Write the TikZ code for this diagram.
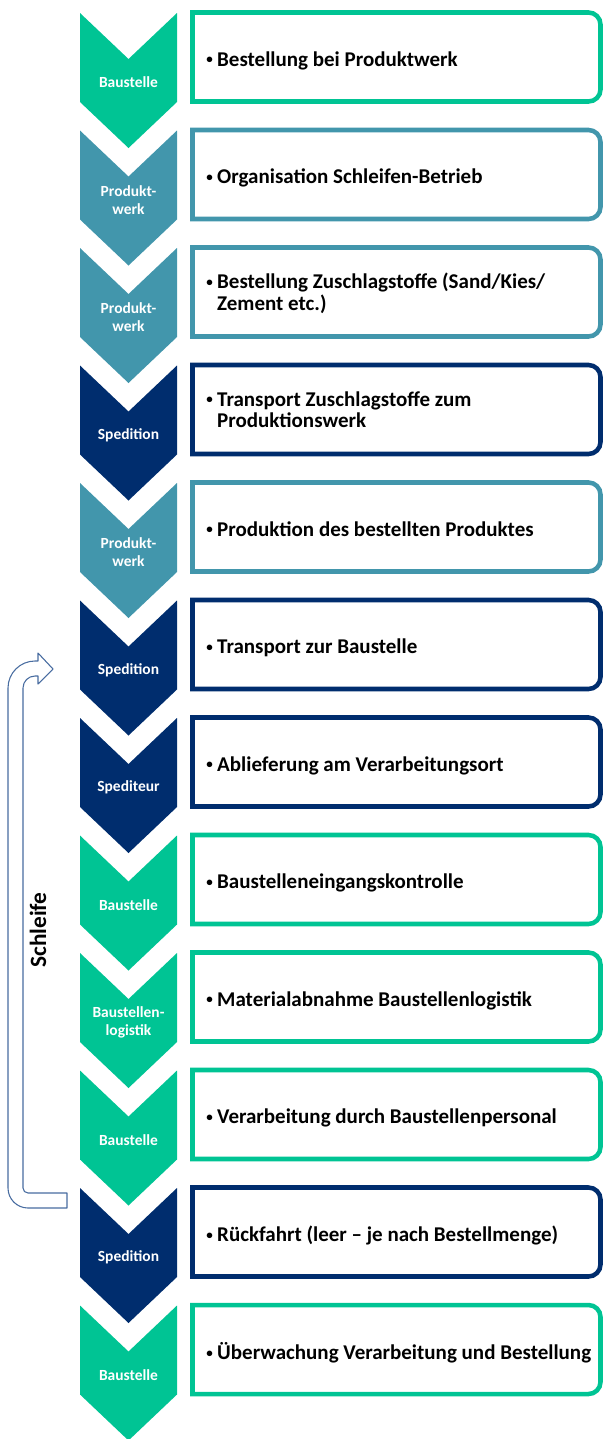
\documentclass[tikz,border=0pt]{standalone}
\usepackage{fontspec}
\setmainfont{Carlito}
\definecolor{cgreen}{RGB}{0,196,148}
\definecolor{cteal}{RGB}{66,150,172}
\definecolor{cnavy}{RGB}{0,45,110}
\definecolor{carrow}{RGB}{72,108,160}
\tikzset{
  chevlabel/.style={text=white, font=\bfseries\fontsize{11.6}{13.5}\selectfont, align=center, inner sep=0pt},
  boxtext/.style={anchor=west, font=\bfseries\fontsize{15.75}{15.75}\selectfont, inner sep=0pt, align=left},
  boxline/.style={line width=3.4pt},
  loopline/.style={draw=carrow, line width=0.8pt, fill=white, line join=round}
}
\newcommand\bitem[1]{\makebox[8.2pt][l]{\raisebox{0.12em}{\scalebox{0.62}{\textbullet}}}\begin{tabular}[t]{@{}l@{}}#1\end{tabular}}
\begin{document}
\begin{tikzpicture}[x=0.75pt,y=-0.75pt]
\useasboundingbox (0,0) rectangle (605,1439);
\foreach \i/\c/\lab/\txt/\dy in {
  0/cgreen/Baustelle/{Bestellung bei Produktwerk}/4.5,
  1/cteal/{Produkt-\\werk}/{Organisation Schleifen-Betrieb}/4.5,
  2/cteal/{Produkt-\\werk}/{Bestellung Zuschlagstoffe (Sand/Kies/\\Zement etc.)}/2.5,
  3/cnavy/Spedition/{Transport Zuschlagstoffe zum\\Produktionswerk}/2.5,
  4/cteal/{Produkt-\\werk}/{Produktion des bestellten Produktes}/4.5,
  5/cnavy/Spedition/{Transport zur Baustelle}/4.5,
  6/cnavy/Spediteur/{Ablieferung am Verarbeitungsort}/4.5,
  7/cgreen/Baustelle/{Baustelleneingangskontrolle}/4.5,
  8/cgreen/{Baustellen-\\logistik}/{Materialabnahme Baustellenlogistik}/4.5,
  9/cgreen/Baustelle/{Verarbeitung durch Baustellenpersonal}/4.5,
  10/cnavy/Spedition/{Rückfahrt (leer – je nach Bestellmenge)}/4.5,
  11/cgreen/Baustelle/{Überwachung Verarbeitung und Bestellung}/4.5} {
  \pgfmathsetmacro\t{13+117.5*\i}
  \pgfmathsetmacro\b{10+117.5*\i}
  \fill[\c] (80,\t) -- (128.5,\t+46) -- (177,\t) -- (177,\t+89) -- (128.5,\t+135) -- (80,\t+89) -- cycle;
  \node[chevlabel] (c\i) at (128.5,\t+69.5) {\lab};
  \draw[\c, boxline] (192.5,\b+91.5) -- (192.5,\b+2.5) -- (588.5,\b+2.5) arc (90:0:9pt) -- (600.5,\b+79.5) arc (0:-90:9pt) -- cycle;
  \node[boxtext] (t\i) at (206,\b+47.5+\dy) {\bitem{\txt}};
}
\path[loopline] (67,1208) -- (28,1208) arc (270:180:15pt) -- (8,688) arc (180:90:20.25pt) -- (38,661) -- (38,653) -- (53,669) -- (38,684) -- (38,676) -- (35,676) arc (90:180:9pt) -- (23,1188) arc (180:270:3.75pt) -- (67,1193) -- cycle;
\node[rotate=90, font=\bfseries\fontsize{17.5}{17.5}\selectfont, inner sep=0pt] (sl) at (38,930) {Schleife};
\end{tikzpicture}
\end{document}
